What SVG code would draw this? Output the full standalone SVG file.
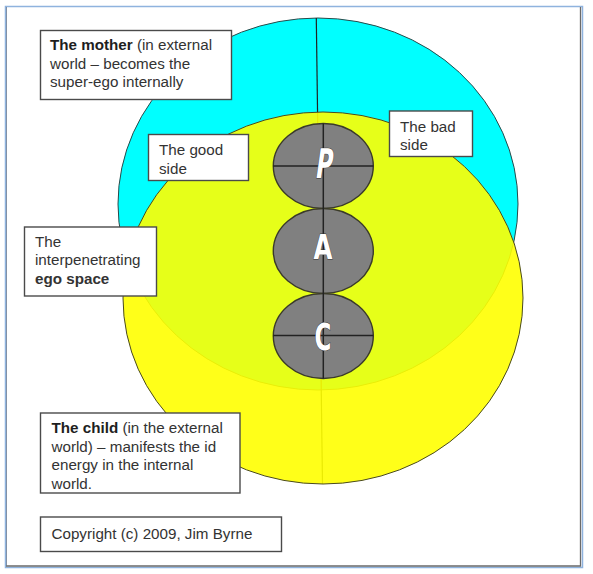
<svg xmlns="http://www.w3.org/2000/svg" width="593" height="574" viewBox="0 0 593 574">
<style>
.lbl rect{fill:#fff;stroke:#4a4a4a;stroke-width:1.4}
.lbl text{font-family:"Liberation Sans",Arial,sans-serif;font-size:15.2px;fill:#333}
.b{font-weight:bold;fill:#1e1e1e}
.pac ellipse{fill:#808080;stroke:#3a3a2a;stroke-width:1.4}
.letter{font-family:"DejaVu Sans Condensed","Liberation Sans Narrow",sans-serif;font-weight:bold;font-size:34px;fill:#fff;stroke:#333;stroke-width:0.8;paint-order:stroke;text-anchor:middle}
</style>
<rect x="0" y="0" width="593" height="574" fill="#fff"/>
<g id="frame">
<rect x="5.5" y="6.5" width="577" height="561" fill="none" stroke="#8fb3de" stroke-width="1.5"/>
<polyline points="580.5,7 580.5,566 6,566" fill="none" stroke="#6a6a6a" stroke-width="1.3"/>
<line x1="6.5" y1="7" x2="6.5" y2="566" stroke="#6a7a90" stroke-width="0.8"/>
</g>
<g id="mother-circle">
<ellipse cx="318" cy="204" rx="200" ry="186" fill="#00ffff" stroke="#2a4a4a" stroke-width="1"/>
<line x1="316.3" y1="18" x2="322.5" y2="484" stroke="#222" stroke-width="1.2"/>
</g>
<g id="child-circle">
<ellipse cx="323" cy="298" rx="200" ry="186" fill="#ffff00" fill-opacity="0.9" stroke="#4a4a20" stroke-width="1"/>
</g>
<g id="pac" class="pac">
<g id="P"><ellipse cx="323.3" cy="166" rx="50" ry="42.5"/></g>
<g id="A"><ellipse cx="323.3" cy="251" rx="50" ry="42.5"/></g>
<g id="C"><ellipse cx="323.3" cy="336" rx="50" ry="42.5"/></g>
</g>
<g id="connectors" stroke="#222" stroke-width="1.5">
<line x1="323.3" y1="123.5" x2="323.3" y2="378.5"/>
<line x1="273.3" y1="166" x2="373.3" y2="166"/>
<line x1="273.3" y1="335.5" x2="373.3" y2="335.5"/>
</g>
<text class="letter" transform="translate(323,178) skewX(-8) scale(0.75,1.2)">P</text>
<text class="letter" transform="translate(323,259) scale(0.8,0.98)">A</text>
<text class="letter" transform="translate(323,350) scale(0.75,1.1)">C</text>
<g id="label-mother" class="lbl">
<rect x="40.5" y="30.5" width="191" height="69"/>
<text x="50" y="50"><tspan class="b">The mother</tspan> (in external</text>
<text x="50" y="68.5">world – becomes the</text>
<text x="50" y="87">super-ego internally</text>
</g>
<g id="label-good" class="lbl">
<rect x="148.5" y="134.5" width="100" height="46"/>
<text x="159" y="155">The good</text>
<text x="159" y="173.5">side</text>
</g>
<g id="label-bad" class="lbl">
<rect x="389.5" y="111" width="83" height="45.5"/>
<text x="400" y="131.5">The bad</text>
<text x="400" y="150">side</text>
</g>
<g id="label-ego" class="lbl">
<rect x="24.5" y="227" width="132" height="69"/>
<text x="35" y="246.5">The</text>
<text x="35" y="265">interpenetrating</text>
<text x="35" y="284" class="b">ego space</text>
</g>
<g id="label-child" class="lbl">
<rect x="40.5" y="413" width="199.5" height="80"/>
<text x="51.5" y="433"><tspan class="b">The child</tspan> (in the external</text>
<text x="51.5" y="451.5">world) – manifests the id</text>
<text x="51.5" y="470">energy in the internal</text>
<text x="51.5" y="488.5">world.</text>
</g>
<g id="label-copyright" class="lbl">
<rect x="40.5" y="517" width="241" height="34.5"/>
<text x="51.5" y="538.5">Copyright (c) 2009, Jim Byrne</text>
</g>
</svg>
